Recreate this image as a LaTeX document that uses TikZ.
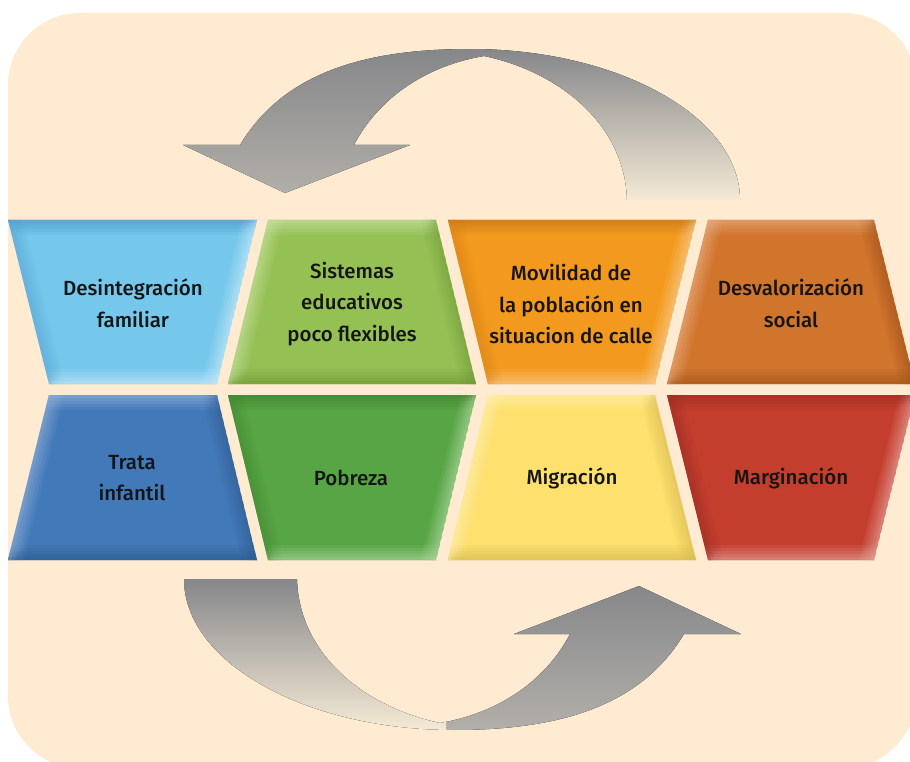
\documentclass[tikz,border=0pt]{standalone}
\usepackage{fontspec}
\IfFontExistsTF{Fira Sans Medium}{\setmainfont{Fira Sans Medium}}{\setmainfont{Fira Sans}}
\definecolor{bg}{HTML}{FEEBD1}
\definecolor{arrdark}{HTML}{86878A}
\definecolor{arrlight}{HTML}{B2AFA9}
\definecolor{tailend}{HTML}{F4EAD6}
\definecolor{txt}{HTML}{151515}
\newcommand\arrowshape{(240,145) .. controls (285,70) and (370,49) .. (470,49)
  .. controls (619,49) and (740,117) .. (740,200) -- (627,200)
  .. controls (625,125) and (560,72) .. (484,56)
  .. controls (430,65) and (380,95) .. (354,145) -- (410,145) -- (285,193) -- (183,145) -- cycle}
\newcommand\drawarrow{%
  \begin{scope}
    \clip \arrowshape;
    \fill[top color=arrdark, bottom color=arrlight] (150,49) rectangle (479,195);
    \fill[top color=arrdark, bottom color=tailend] (478,49) rectangle (760,200);
  \end{scope}}
% #1 prefix, #2 base, #3 top, #4 right, #5 bottom, #6 left
\newcommand\bevelshape[6]{%
  \begin{scope}
    \clip (#1tl) -- (#1tr) -- (#1br) -- (#1bl) -- cycle;
    \fill[#2] (#1tl) -- (#1tr) -- (#1br) -- (#1bl) -- cycle;
    \foreach \w/\o in {30/0.12,24/0.14,18/0.16,12/0.2,6/0.25}{
      \draw[line width=\w pt, #3, opacity=\o, line cap=rect] (#1tl) -- (#1tr);
      \draw[line width=\w pt, #4, opacity=\o, line cap=rect] (#1tr) -- (#1br);
      \draw[line width=\w pt, #5, opacity=\o, line cap=rect] (#1br) -- (#1bl);
      \draw[line width=\w pt, #6, opacity=\o, line cap=rect] (#1bl) -- (#1tl);
    }
  \end{scope}}
\tikzset{
  label text/.style={text=txt, align=center, font=\fontsize{20.5}{31.5}\selectfont, inner sep=0pt},
}
\begin{document}
\begin{tikzpicture}[x=1pt,y=-1pt]
\useasboundingbox (0,0) rectangle (910,762);
\fill[white] (0,0) rectangle (910,762);
\fill[bg, rounded corners=72pt] (8,13) rectangle (916,768);

% arrows
\drawarrow
\begin{scope}[rotate around={180:(462,389.5)}]
  \drawarrow
\end{scope}

% coordinates of shapes
\coordinate (atl) at (8,220);   \coordinate (atr) at (257,220); \coordinate (abr) at (217,384); \coordinate (abl) at (49,384);
\coordinate (btl) at (268,220); \coordinate (btr) at (436,220); \coordinate (bbr) at (476,384); \coordinate (bbl) at (228,384);
\coordinate (ctl) at (448,220); \coordinate (ctr) at (696,220); \coordinate (cbr) at (655,384); \coordinate (cbl) at (488,384);
\coordinate (dtl) at (708,220); \coordinate (dtr) at (874,220); \coordinate (dbr) at (915,384); \coordinate (dbl) at (667,384);
\coordinate (etl) at (49,395);  \coordinate (etr) at (217,395); \coordinate (ebr) at (257,560); \coordinate (ebl) at (8,560);
\coordinate (ftl) at (228,395); \coordinate (ftr) at (476,395); \coordinate (fbr) at (436,560); \coordinate (fbl) at (268,560);
\coordinate (gtl) at (488,395); \coordinate (gtr) at (655,395); \coordinate (gbr) at (696,560); \coordinate (gbl) at (448,560);
\coordinate (htl) at (667,395); \coordinate (htr) at (915,395); \coordinate (hbr) at (874,560); \coordinate (hbl) at (708,560);

\bevelshape{a}{color={rgb,255:red,117;green,199;blue,236}}{color={rgb,255:red,80;green,150;blue,200}}{color={rgb,255:red,200;green,235;blue,250}}{color={rgb,255:red,200;green,235;blue,250}}{color={rgb,255:red,95;green,170;blue,215}}
\bevelshape{b}{color={rgb,255:red,149;green,193;blue,84}}{color={rgb,255:red,205;green,228;blue,170}}{color={rgb,255:red,120;green,160;blue,60}}{color={rgb,255:red,110;green,150;blue,55}}{color={rgb,255:red,200;green,225;blue,160}}
\bevelshape{c}{color={rgb,255:red,243;green,154;blue,30}}{color={rgb,255:red,195;green,115;blue,25}}{color={rgb,255:red,250;green,205;blue,145}}{color={rgb,255:red,250;green,205;blue,145}}{color={rgb,255:red,220;green,135;blue,25}}
\bevelshape{d}{color={rgb,255:red,209;green,116;blue,44}}{color={rgb,255:red,232;green,175;blue,130}}{color={rgb,255:red,165;green,85;blue,30}}{color={rgb,255:red,160;green,85;blue,30}}{color={rgb,255:red,232;green,175;blue,130}}
\bevelshape{e}{color={rgb,255:red,66;green,121;blue,185}}{color={rgb,255:red,150;green,180;blue,220}}{color={rgb,255:red,50;green,95;blue,150}}{color={rgb,255:red,45;green,90;blue,140}}{color={rgb,255:red,145;green,175;blue,215}}
\bevelshape{f}{color={rgb,255:red,87;green,165;blue,68}}{color={rgb,255:red,65;green,130;blue,50}}{color={rgb,255:red,175;green,215;blue,160}}{color={rgb,255:red,175;green,215;blue,160}}{color={rgb,255:red,70;green,140;blue,55}}
\bevelshape{g}{color={rgb,255:red,253;green,224;blue,110}}{color={rgb,255:red,255;green,242;blue,180}}{color={rgb,255:red,220;green,190;blue,85}}{color={rgb,255:red,210;green,185;blue,80}}{color={rgb,255:red,255;green,240;blue,175}}
\bevelshape{h}{color={rgb,255:red,196;green,62;blue,46}}{color={rgb,255:red,155;green,45;blue,35}}{color={rgb,255:red,230;green,165;blue,158}}{color={rgb,255:red,230;green,165;blue,158}}{color={rgb,255:red,160;green,48;blue,38}}

% texts
\node[label text] (t1) at (133,303) {Desintegración\\familiar};
\node[label text] (t2) at (352,304) {Sistemas\\educativos\\poco flexibles};
\node[label text] (t3) at (571,304) {Movilidad de\\la población en\\situacion de calle};
\node[label text] (t4) at (791,303) {Desvalorización\\social};
\node[label text] (t5) at (132,478) {Trata\\infantil};
\node[label text] (t6) at (351,478) {Pobreza};
\node[label text] (t7) at (572,478) {Migración};
\node[label text] (t8) at (791,478) {Marginación};
\end{tikzpicture}
\end{document}
